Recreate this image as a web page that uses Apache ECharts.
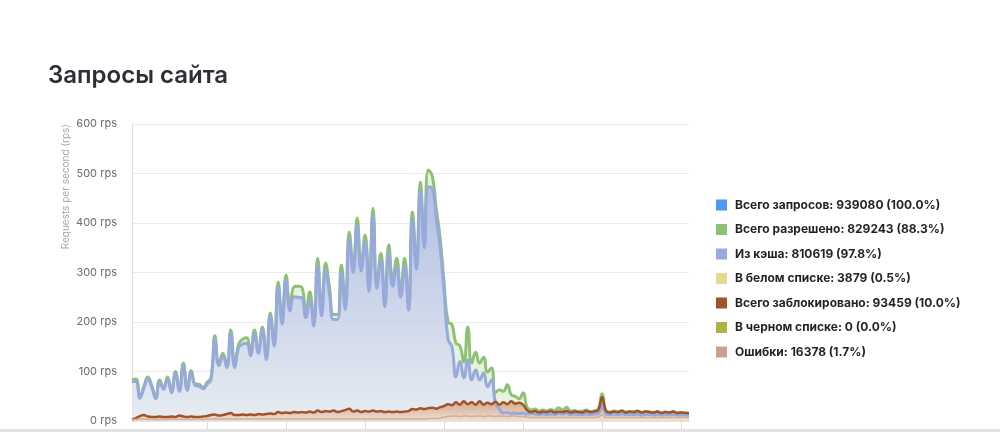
<!DOCTYPE html>
<html lang="ru">
<head>
  <meta charset="UTF-8">
  <title>Запросы сайта</title>
  <script src="https://cdn.jsdelivr.net/npm/echarts@6/dist/echarts.min.js"></script>
  <style>
    html, body { margin: 0; padding: 0; background: #fff; }
  </style>
</head>
<body>
  <div id="chart" style="width: 1000px;height: 432px;"></div>
<script>
  // legend names + totals
  var seriesNames = ['Всего запросов', 'Всего разрешено', 'Из кэша', 'В белом списке', 'Всего заблокировано', 'В черном списке', 'Ошибки']
  var seriesTotals = ['939080 (100.0%)', '829243 (88.3%)', '810619 (97.8%)', '3879 (0.5%)', '93459 (10.0%)', '0 (0.0%)', '16378 (1.7%)']
  var seriesColors = ['#4d9bf0', '#8fc175', '#98a9dd', '#e3d98f', '#a0532b', '#b1b143', '#c9a08a']

  var yTicks = [0, 100, 200, 300, 400, 500, 600]

  var allowed = [83, 85, 50, 70, 89, 72, 48, 83, 68, 89, 60, 100, 63, 117, 65, 102, 75, 74, 68, 78,
    88, 172, 117, 137, 113, 184, 113, 155, 165, 168, 139, 184, 143, 190, 129, 218, 157, 281, 204, 295,
    230, 271, 272, 270, 218, 261, 200, 329, 220, 319, 270, 215, 215, 315, 234, 382, 311, 410, 315, 376,
    271, 430, 279, 339, 240, 356, 285, 329, 261, 329, 234, 422, 319, 483, 366, 507, 495, 430, 370, 280,
    200, 195, 157, 152, 119, 190, 117, 139, 117, 129, 99, 107, 57, 63, 60, 73, 53, 50, 45, 57,
    28, 22, 24, 20, 22, 20, 23, 21, 27, 22, 28, 20, 21, 19, 20, 22, 19, 21, 24, 55,
    21, 18, 20, 19, 21, 18, 19, 18, 20, 17, 19, 18, 17, 19, 16, 18, 17, 19, 16, 17, 16, 15]

  var cached = [80, 80, 46, 66, 85, 68, 45, 79, 64, 85, 57, 97, 60, 113, 62, 98, 72, 70, 65, 74,
    84, 165, 112, 130, 108, 178, 108, 148, 155, 157, 132, 177, 137, 184, 124, 212, 151, 272, 196, 285,
    222, 251, 250, 249, 209, 244, 192, 316, 212, 305, 255, 205, 205, 300, 225, 368, 300, 395, 303, 362,
    262, 416, 268, 324, 231, 340, 272, 312, 250, 313, 224, 405, 306, 465, 350, 473, 470, 410, 350, 262,
    165, 150, 89, 120, 87, 123, 83, 103, 83, 97, 69, 83, 38, 24, 16, 17, 15, 16, 15, 16,
    14, 15, 14, 13, 14, 13, 14, 13, 15, 14, 15, 13, 14, 13, 13, 14, 13, 14, 15, 30,
    14, 13, 14, 13, 14, 13, 13, 13, 14, 12, 13, 13, 12, 13, 12, 13, 12, 13, 12, 12, 12, 11]

  var blocked = [3, 6, 10, 12, 9, 8, 8, 9, 8, 8, 9, 8, 11, 9, 8, 9, 8, 8, 9, 10,
    12, 13, 11, 12, 14, 16, 12, 12, 13, 12, 13, 12, 14, 13, 14, 15, 14, 18, 16, 17,
    16, 18, 17, 18, 17, 19, 17, 21, 18, 20, 19, 21, 18, 20, 22, 25, 19, 21, 18, 20,
    19, 21, 19, 20, 18, 19, 18, 19, 18, 19, 20, 24, 23, 26, 24, 26, 27, 25, 28, 30,
    34, 32, 38, 33, 40, 34, 38, 33, 40, 33, 37, 34, 39, 33, 38, 34, 40, 35, 37, 33,
    22, 18, 20, 17, 19, 18, 20, 17, 19, 18, 20, 17, 19, 18, 17, 20, 18, 19, 22, 48,
    20, 17, 19, 18, 20, 17, 19, 18, 20, 17, 19, 18, 17, 19, 16, 18, 17, 19, 16, 17, 16, 16]

  var errors = [3, 3, 4, 4, 3, 4, 3, 3, 4, 3, 4, 3, 4, 3, 4, 3, 4, 4, 3, 4,
    4, 4, 4, 4, 4, 4, 4, 4, 4, 4, 4, 4, 4, 4, 4, 4, 4, 4, 4, 4,
    4, 4, 4, 4, 4, 4, 4, 4, 4, 4, 4, 4, 4, 4, 4, 4, 4, 4, 4, 4,
    4, 4, 4, 4, 4, 4, 4, 4, 4, 4, 4, 4, 4, 4, 4, 5, 5, 5, 6, 8,
    9, 10, 10, 9, 10, 10, 9, 10, 10, 9, 10, 10, 9, 10, 10, 9, 10, 10, 9, 9,
    8, 7, 7, 7, 7, 7, 7, 7, 7, 7, 7, 7, 7, 7, 7, 7, 7, 7, 8, 12,
    7, 7, 7, 7, 7, 7, 7, 7, 7, 7, 7, 7, 7, 7, 7, 7, 7, 7, 7, 7, 7, 7]

  var whitelist = [1, 1, 1, 1, 1, 1, 1, 1, 1, 1, 1, 1, 1, 1, 1, 1, 1, 1, 1, 1,
    1, 1, 1, 1, 1, 1, 1, 1, 1, 1, 1, 1, 1, 1, 1, 1, 1, 1, 1, 1,
    1, 1, 1, 1, 1, 1, 1, 1, 1, 1, 1, 1, 1, 1, 1, 1, 1, 1, 1, 1,
    1, 1, 1, 1, 1, 1, 1, 1, 1, 1, 1, 1, 1, 1, 1, 1, 1, 1, 1, 1,
    1, 1, 1, 1, 1, 1, 1, 1, 1, 1, 1, 1, 1, 1, 1, 1, 1, 1, 1, 1,
    0, 0, 0, 0, 0, 0, 0, 0, 0, 0, 0, 0, 0, 0, 0, 0, 0, 0, 0, 0,
    0, 0, 0, 0, 0, 0, 0, 0, 0, 0, 0, 0, 0, 0, 0, 0, 0, 0, 0, 0, 0, 0]

  // time labels, 10 min step (not visible in the picture)
  var categories = []
  for (var i = 0; i < allowed.length; i++) {
    var m = i * 10 + 60
    categories.push(String(Math.floor(m / 60) % 24).padStart(2, '0') + ':' + String(m % 60).padStart(2, '0'))
  }

  function grad(top, bottom) {
    return new echarts.graphic.LinearGradient(0, 0, 0, 1, [
      { offset: 0, color: top },
      { offset: 1, color: bottom }
    ])
  }

  function line(idx, data, extra) {
    var s = {
      name: seriesNames[idx],
      type: 'line',
      data: data,
      smooth: true,
      showSymbol: false,
      symbol: 'none',
      itemStyle: { color: seriesColors[idx] },
      lineStyle: { color: seriesColors[idx], width: 2 }
    }
    return Object.assign(s, extra || {})
  }

  var charts = echarts.init(document.getElementById('chart'))
  var option = {
    animation: false,
    textStyle: { fontFamily: 'Inter' },
    title: {
      text: 'Запросы сайта',
      left: 43,
      top: 59,
      textStyle: { fontFamily: 'Inter', fontSize: 24, fontWeight: 600, color: '#2b2f36' }
    },
    legend: {
      orient: 'vertical',
      left: 711,
      top: 194,
      icon: 'rect',
      itemWidth: 11,
      itemHeight: 11,
      itemGap: 12.5,
      data: seriesNames,
      formatter: function (name) {
        return name + ': ' + seriesTotals[seriesNames.indexOf(name)]
      },
      textStyle: { fontFamily: 'Inter', fontSize: 12, fontWeight: 'bold', color: '#1f2328', padding: [0, 0, 0, 3] }
    },
    grid: {
      left: 132,
      right: 311,
      top: 124,
      bottom: 11
    },
    xAxis: {
      type: 'category',
      boundaryGap: false,
      data: categories,
      axisLine: { lineStyle: { color: '#e6e6e6' } },
      axisTick: {
        length: 9,
        interval: function (index) { return (index + 1) % 20 === 0 },
        lineStyle: { color: '#dcdcdc' }
      },
      axisLabel: { show: false },
      splitLine: { show: false }
    },
    yAxis: {
      type: 'value',
      min: yTicks[0],
      max: yTicks[yTicks.length - 1],
      interval: 100,
      axisLine: { show: true, lineStyle: { color: '#dcdcdc' } },
      axisTick: { show: false },
      axisLabel: { formatter: '{value} rps', margin: 15, fontSize: 11, color: '#6b6b6b', fontFamily: 'Inter' },
      splitLine: { lineStyle: { color: '#ececec' } }
    },
    graphic: [
      {
        type: 'text',
        left: 61,
        top: 124,
        rotation: Math.PI / 2,
        style: { text: 'Requests per second (rps)', fontSize: 10, fill: '#a8a8a8', fontFamily: 'Inter' }
      },
      {
        type: 'rect',
        left: 0,
        top: 429,
        shape: { width: 1000, height: 3 },
        style: { fill: '#e2e2e2' }
      }
    ],
    series: [
      line(0, []),
      line(1, allowed, {
        lineStyle: { color: seriesColors[1], width: 3 },
        areaStyle: { color: 'rgba(210, 232, 192, 0.8)' }
      }),
      line(2, cached, {
        lineStyle: { color: seriesColors[2], width: 3 },
        areaStyle: { color: grad('#9ca9e6', '#e6e9f9') }
      }),
      line(3, whitelist, { z: 1, lineStyle: { color: seriesColors[3], width: 1 } }),
      line(4, blocked, {
        lineStyle: { color: seriesColors[4], width: 2.5 },
        areaStyle: { color: grad('#c47b4b', '#f3dccb') }
      }),
      line(5, [], { z: 1 }),
      line(6, errors, { lineStyle: { color: '#d3ad9a', width: 1.5 } })
    ]
  }
  charts.setOption(option)
</script>
</body>
</html>
